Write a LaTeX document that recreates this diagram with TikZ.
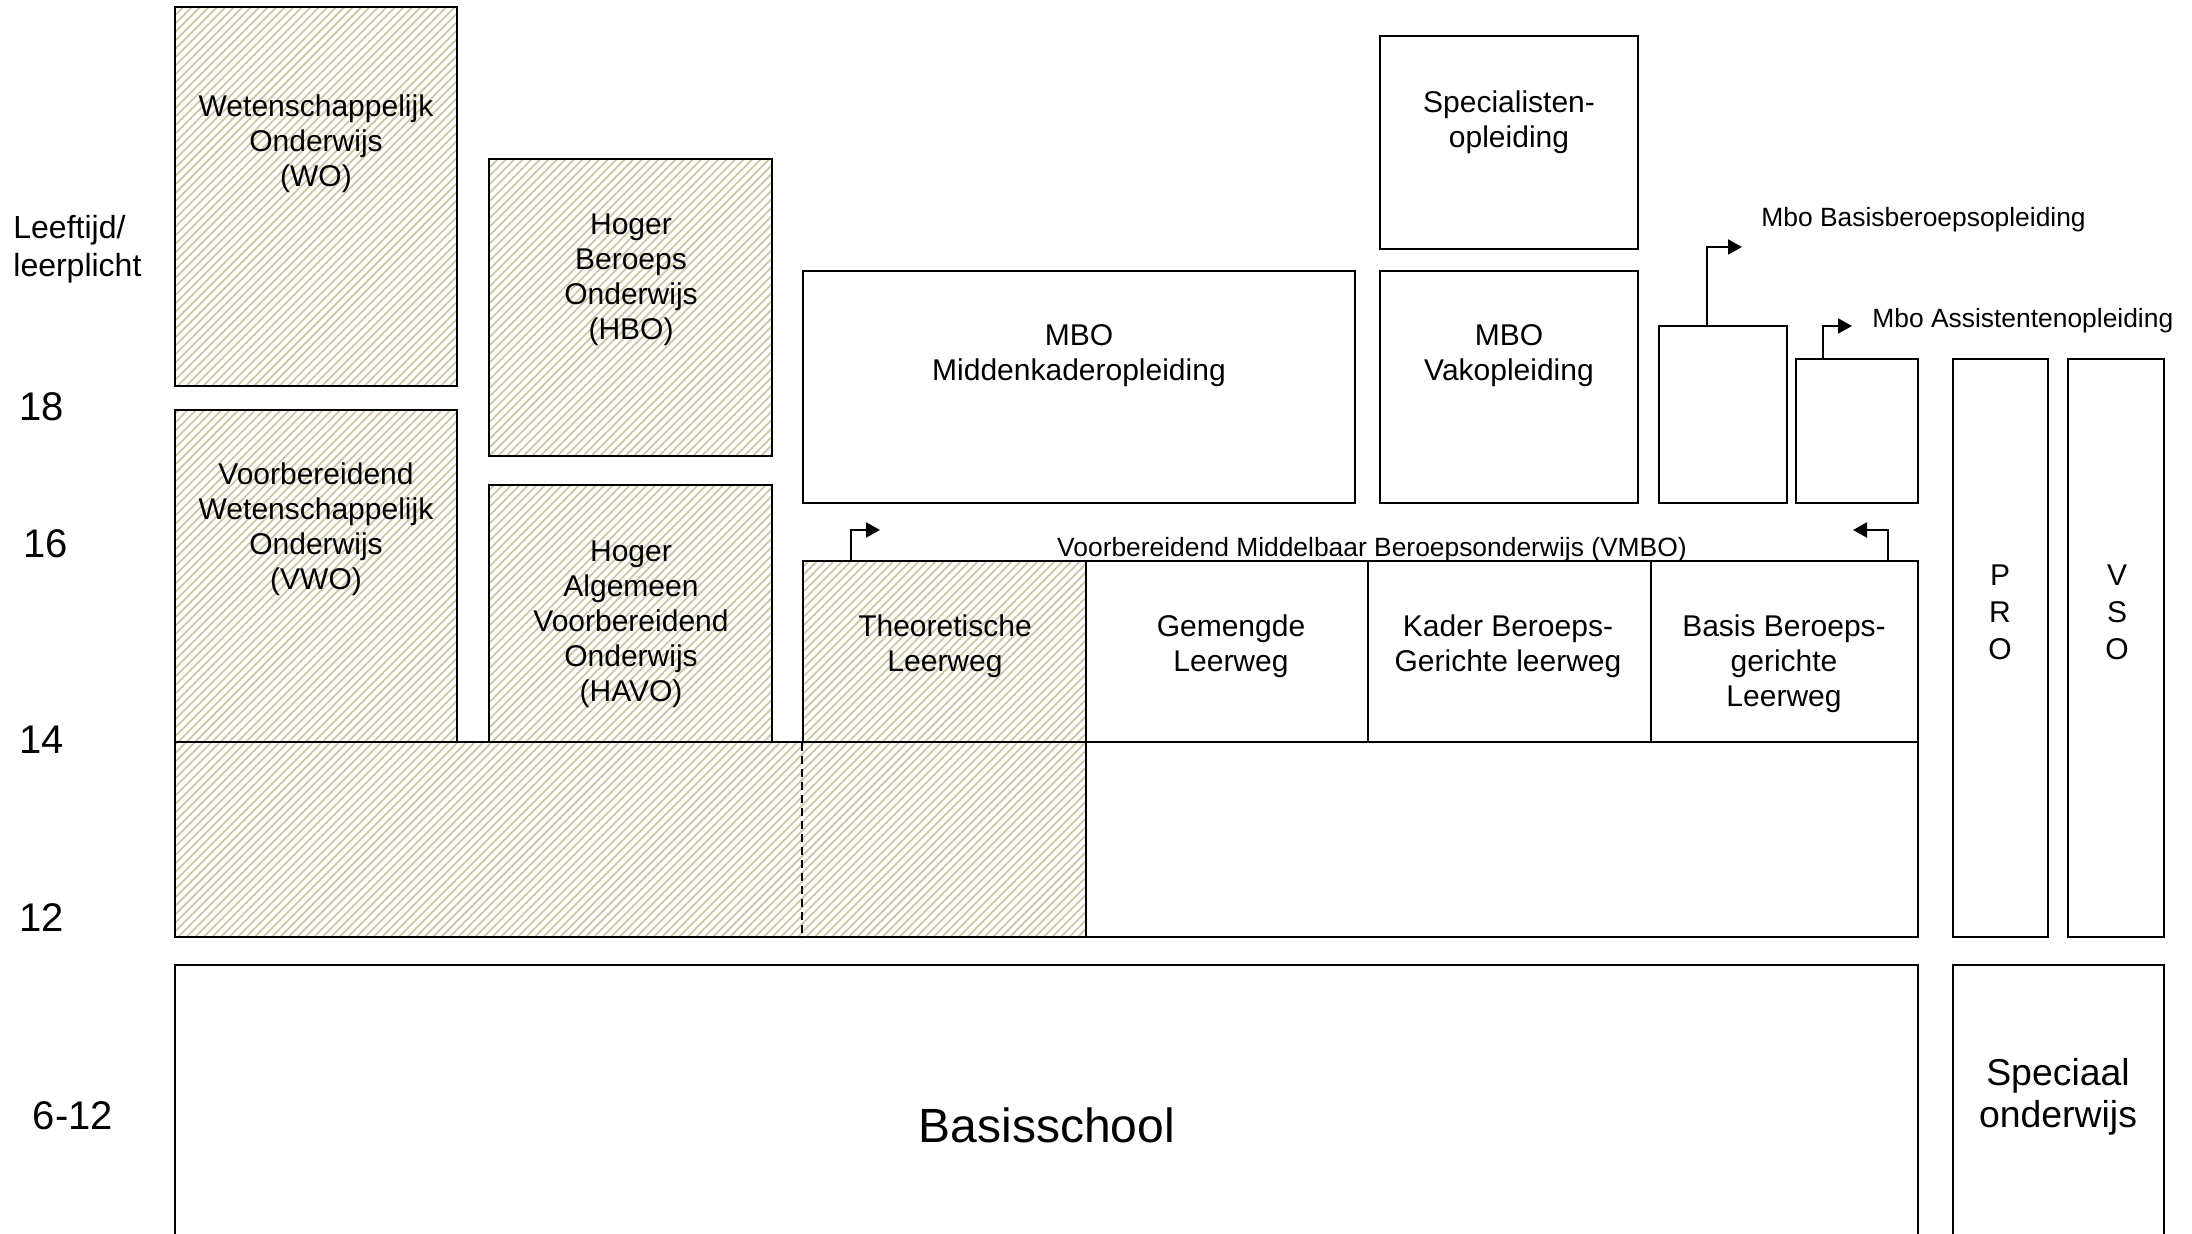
\documentclass[tikz,border=0pt]{standalone}
\usepackage{fontspec}
\setmainfont{Liberation Sans}
\usetikzlibrary{arrows.meta,patterns.meta}
\definecolor{hatch}{RGB}{206,198,166}
\tikzset{
  box/.style={draw, line width=1pt, inner sep=0pt},
  hatched/.style={preaction={fill=white}, pattern={Lines[angle=45,distance=3pt,line width=0.9pt]}, pattern color=hatch},
  txt/.style={align=center, font=\fontsize{15}{17.5}\selectfont},
  small/.style={inner sep=0pt, font=\fontsize{13.2}{15}\selectfont},
  age/.style={font=\fontsize{20}{24}\selectfont},
  elbow/.style={line width=1pt, -{Triangle[length=7pt,width=7.5pt]}},
}
\begin{document}
\begin{tikzpicture}[x=0.5pt,y=-0.5pt]
    \useasboundingbox (0,0) rectangle (2192,1234);

    % Ages
    \node[anchor=west, align=left, inner sep=0pt, font=\fontsize{16}{19}\selectfont] (leeft) at (13,249) {Leeftijd/\\leerplicht};
    \foreach \a/\x/\y in {18/42/407, 16/46/544, 14/42/740, 12/42/918}
        \node[age] (age\a) at (\x,\y) {\a};
    \node[age] (age612) at (73,1116) {6-12};

    % WO / HBO / VWO / HAVO
    \node[box, hatched, minimum width=141pt, minimum height=189.5pt] (wo) at (316,196.5) {};
    \node[box, hatched, minimum width=141pt, minimum height=166pt] (vwo) at (316,576) {};
    \node[box, hatched, minimum width=141.5pt, minimum height=148.5pt] (hbo) at (630.5,307.5) {};
    \node[box, hatched, minimum width=141.5pt, minimum height=128.5pt] (havo) at (630.5,613.5) {};
    \node[txt] (wot) at (316,144) {Wetenschappelijk\\Onderwijs\\(WO)};
    \node[txt] (hbot) at (631,280) {Hoger\\Beroeps\\Onderwijs\\(HBO)};
    \node[txt] (vwot) at (316,529) {Voorbereidend\\Wetenschappelijk\\Onderwijs\\(VWO)};
    \node[txt] (havot) at (631,624) {Hoger\\Algemeen\\Voorbereidend\\Onderwijs\\(HAVO)};

    % Lower years
    \node[box, hatched, minimum width=455.5pt, minimum height=97.5pt] (lowhatch) at (630.5,839.5) {};
    \node[box, minimum width=416pt, minimum height=97.5pt] (lowplain) at (1502,839.5) {};

    % VMBO
    \node[box, hatched, minimum width=141.5pt, minimum height=90.5pt] (tl) at (944.5,651.5) {};
    \foreach \n/\x/\w in {gl/1227/141, kl/1509.5/141.5, bbl/1784.5/133.5}
        \node[box, minimum width=\w pt, minimum height=90.5pt] (\n) at (\x,651.5) {};
    \draw[line width=1pt, dash pattern=on 4pt off 2.5pt] (tl.south west) -- (tl.south west |- lowhatch.south);
    \node[txt] (tlt) at (945,646) {Theoretische\\Leerweg};
    \node[txt] (glt) at (1231,646) {Gemengde\\Leerweg};
    \node[txt] (klt) at (1508,646) {Kader Beroeps-\\Gerichte leerweg};
    \node[txt] (bblt) at (1784,664) {Basis Beroeps-\\gerichte\\Leerweg};
    \node[small] (vmbolab) at (1372,550) {Voorbereidend Middelbaar Beroepsonderwijs (VMBO)};

    % MBO
    \node[box, minimum width=276pt, minimum height=116pt] (mid) at (1079,387) {};
    \node[box, minimum width=129pt, minimum height=106.5pt] (spec) at (1509,142.5) {};
    \node[box, minimum width=129pt, minimum height=116pt] (vak) at (1509,387) {};
    \node[box, minimum width=64pt, minimum height=88.5pt] (bbo) at (1723,414.5) {};
    \node[box, minimum width=61pt, minimum height=72pt] (ao) at (1857,431) {};
    \node[txt] (midt) at (1079,356) {MBO\\Middenkaderopleiding};
    \node[txt] (spect) at (1509,122) {Specialisten-\\opleiding};
    \node[txt] (vakt) at (1509,356) {MBO\\Vakopleiding};
    \node[small, anchor=west] (bbolab) at (1761,220) {Mbo Basisberoepsopleiding};
    \node[small, anchor=west] (aolab) at (1872,321) {Mbo Assistentenopleiding};

    % arrows
    \coordinate (bboend) at (1742,247);
    \coordinate (aoend) at (1852,326);
    \coordinate (tlend) at (880,530);
    \coordinate (bblend) at (1853,530);
    \draw[elbow] ([xshift=24.5pt]bbo.north west) |- (bboend);
    \draw[elbow] ([xshift=14pt]ao.north west) |- (aoend);
    \draw[elbow] ([xshift=24.5pt]tl.north west) |- (tlend);
    \draw[elbow] ([xshift=-15.5pt]bbl.north east) |- (bblend);

    % PRO / VSO
    \node[box, minimum width=47.5pt, minimum height=289pt] (pro) at (2000.5,648) {};
    \node[box, minimum width=48pt, minimum height=289pt] (vso) at (2116,648) {};
    \node[txt, font=\fontsize{15}{18.5}\selectfont] (prot) at (2000,612) {P\\R\\O};
    \node[txt, font=\fontsize{15}{18.5}\selectfont] (vsot) at (2117,612) {V\\S\\O};

    % Basisschool
    \node[box, minimum width=871.5pt, minimum height=142.5pt] (bs) at (1046.5,1107.5) {};
    \node[box, minimum width=105.5pt, minimum height=142.5pt] (so) at (2058.5,1107.5) {};
    \node[font=\fontsize{24}{28}\selectfont] (bst) at (1047,1125) {Basisschool};
    \node[align=center, font=\fontsize{18.7}{21}\selectfont] (sot) at (2058,1097) {Speciaal\\onderwijs};
\end{tikzpicture}
\end{document}
